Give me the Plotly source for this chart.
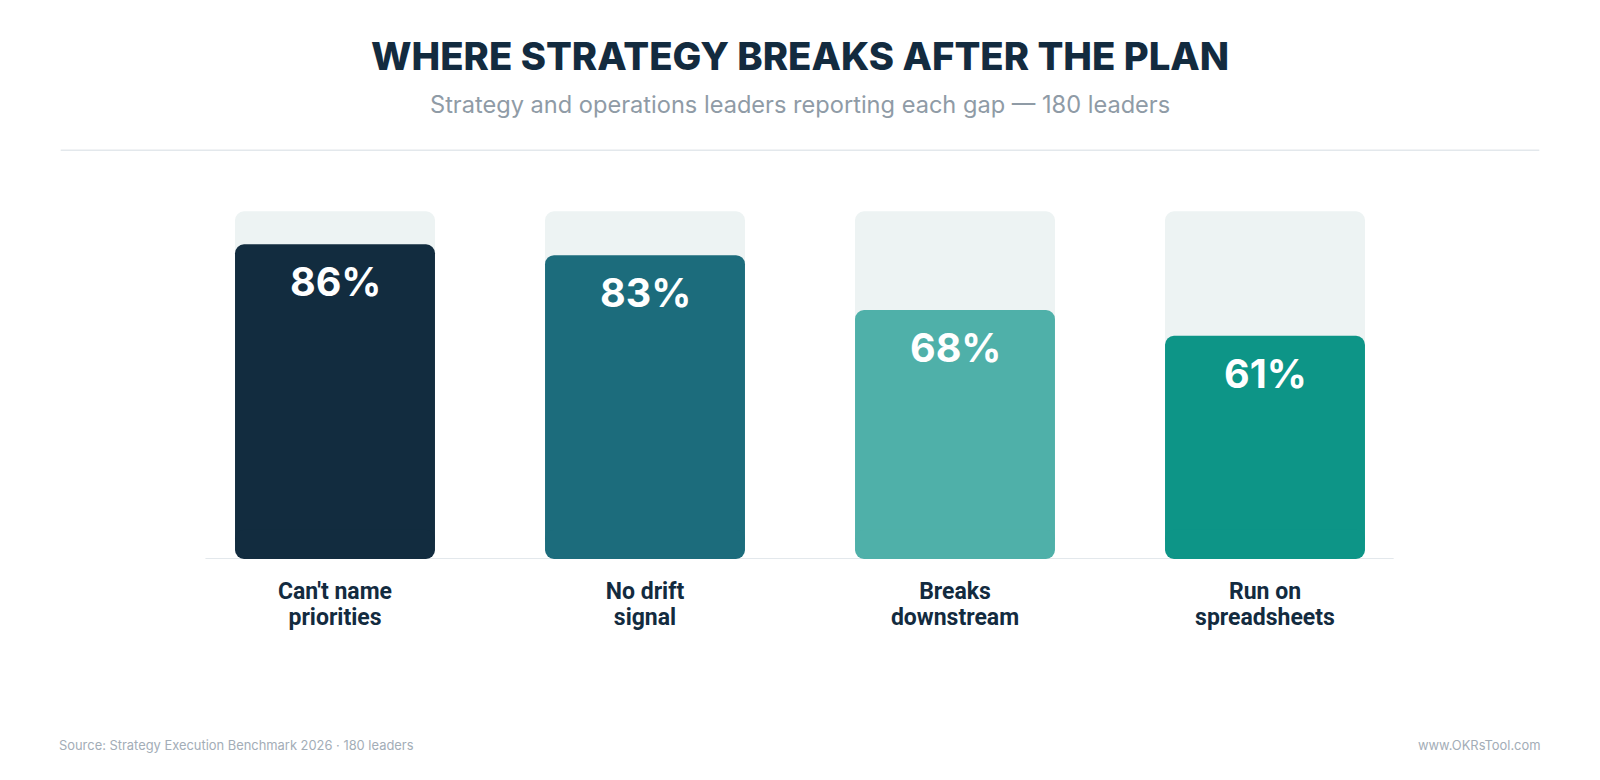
import plotly.graph_objects as go

CATEGORIES = ["Can't name<br>priorities", "No drift<br>signal", "Breaks<br>downstream", "Run on<br>spreadsheets"]
VALUES = [86, 83, 68, 61]
TRACK = [95, 95, 95, 95]
COLORS = ["#122C3F", "#1C6C7C", "#4FB0A9", "#0D9587"]

# page is 1600x780, the html body keeps an 8px margin round the figure
OFF = 8
W, H = 1600 - 2 * OFF, 780 - 2 * OFF
PLOT_L, PLOT_R = 179.6 - OFF, 1420.4 - OFF
PLOT_T, PLOT_B = 192.9 - OFF, 559.2 - OFF


def px_x(x):
    return (x - OFF - PLOT_L) / (PLOT_R - PLOT_L)


def px_y(y):
    return (PLOT_B - (y - OFF)) / (PLOT_B - PLOT_T)


x_idx = list(range(len(CATEGORIES)))
bar_w = 0.645
radius = 9

fig = go.Figure()

# background track, starts half way up so it stays hidden under the bar
fig.add_trace(go.Bar(
    x=x_idx, y=[t - v / 2 for t, v in zip(TRACK, VALUES)], base=[v / 2 for v in VALUES], width=bar_w,
    marker=dict(color="#EDF3F3", cornerradius=radius, line=dict(width=0)),
    hoverinfo="skip",
))
# bar body, rounded at the top
fig.add_trace(go.Bar(
    x=x_idx, y=[v - 3 for v in VALUES], base=[3] * len(VALUES), width=bar_w,
    marker=dict(color=COLORS, cornerradius=radius, line=dict(width=0)),
    customdata=VALUES, hovertemplate="%{customdata}%<extra></extra>",
))
# short foot pointing down so the bottom corners get rounded too
fig.add_trace(go.Bar(
    x=x_idx, y=[-8] * len(VALUES), base=[8] * len(VALUES), width=bar_w,
    marker=dict(color=COLORS, cornerradius=radius, line=dict(width=0)),
    hoverinfo="skip",
))

for i, v in zip(x_idx, VALUES):
    fig.add_annotation(
        x=i, y=v, xref="x", yref="y", yshift=-38,
        text=f"{v}%", showarrow=False, yanchor="middle",
        font=dict(family="Inter", size=39.5, color="#FFFFFF", weight=700),
    )

fig.add_shape(type="line", xref="x", yref="y", x0=-0.418, x1=3.415, y0=0, y1=0,
              line=dict(color="#E3E8EC", width=2), layer="below")
fig.add_shape(type="line", xref="paper", yref="paper", x0=px_x(60.2), x1=px_x(1539.8),
              y0=px_y(150), y1=px_y(150), line=dict(color="#E3E8EC", width=1.5))

fig.add_annotation(
    xref="paper", yref="paper", x=px_x(800), y=px_y(56),
    text="WHERE STRATEGY BREAKS AFTER THE PLAN", showarrow=False, yanchor="middle",
    font=dict(family="Inter", size=38.3, color="#132B3F", weight=800),
)
fig.add_annotation(
    xref="paper", yref="paper", x=px_x(800), y=px_y(104),
    text="Strategy and operations leaders reporting each gap \u2014 180 leaders", showarrow=False,
    yanchor="middle", font=dict(family="Inter", size=23.6, color="#8F9BA6"),
)
fig.add_annotation(
    xref="paper", yref="paper", x=px_x(57), y=px_y(746), xanchor="left", yanchor="middle",
    text="Source: Strategy Execution Benchmark 2026 \u00b7 180 leaders", showarrow=False,
    font=dict(family="Inter", size=12.9, color="#A3ADB7"),
)
fig.add_annotation(
    xref="paper", yref="paper", x=px_x(1543.5), y=px_y(746), xanchor="right", yanchor="middle",
    text="www.OKRsTool.com", showarrow=False,
    font=dict(family="Inter", size=12.9, color="#A3ADB7"),
)

# small base font keeps the two label lines close, the span sets glyph size
tick_text = ["<br>".join(f'<span style="font-size:23px">{part}</span>' for part in c.split("<br>"))
             for c in CATEGORIES]

fig.update_layout(
    width=W, height=H,
    margin=dict(l=PLOT_L, r=W - PLOT_R, t=PLOT_T, b=H - PLOT_B, pad=0),
    barmode="overlay", showlegend=False,
    paper_bgcolor="#FFFFFF", plot_bgcolor="#FFFFFF",
    font=dict(family="Inter"),
)
fig.update_xaxes(
    range=[-0.5, 3.5], tickvals=x_idx, ticktext=tick_text,
    showgrid=False, zeroline=False, showline=False, ticks="", ticklabelstandoff=18,
    tickfont=dict(family="Roboto", size=20.5, color="#132B3F", weight=700),
    fixedrange=True,
)
fig.update_yaxes(range=[0, 100], visible=False, fixedrange=True)

fig.write_html("out.html", config={"displayModeBar": False})
